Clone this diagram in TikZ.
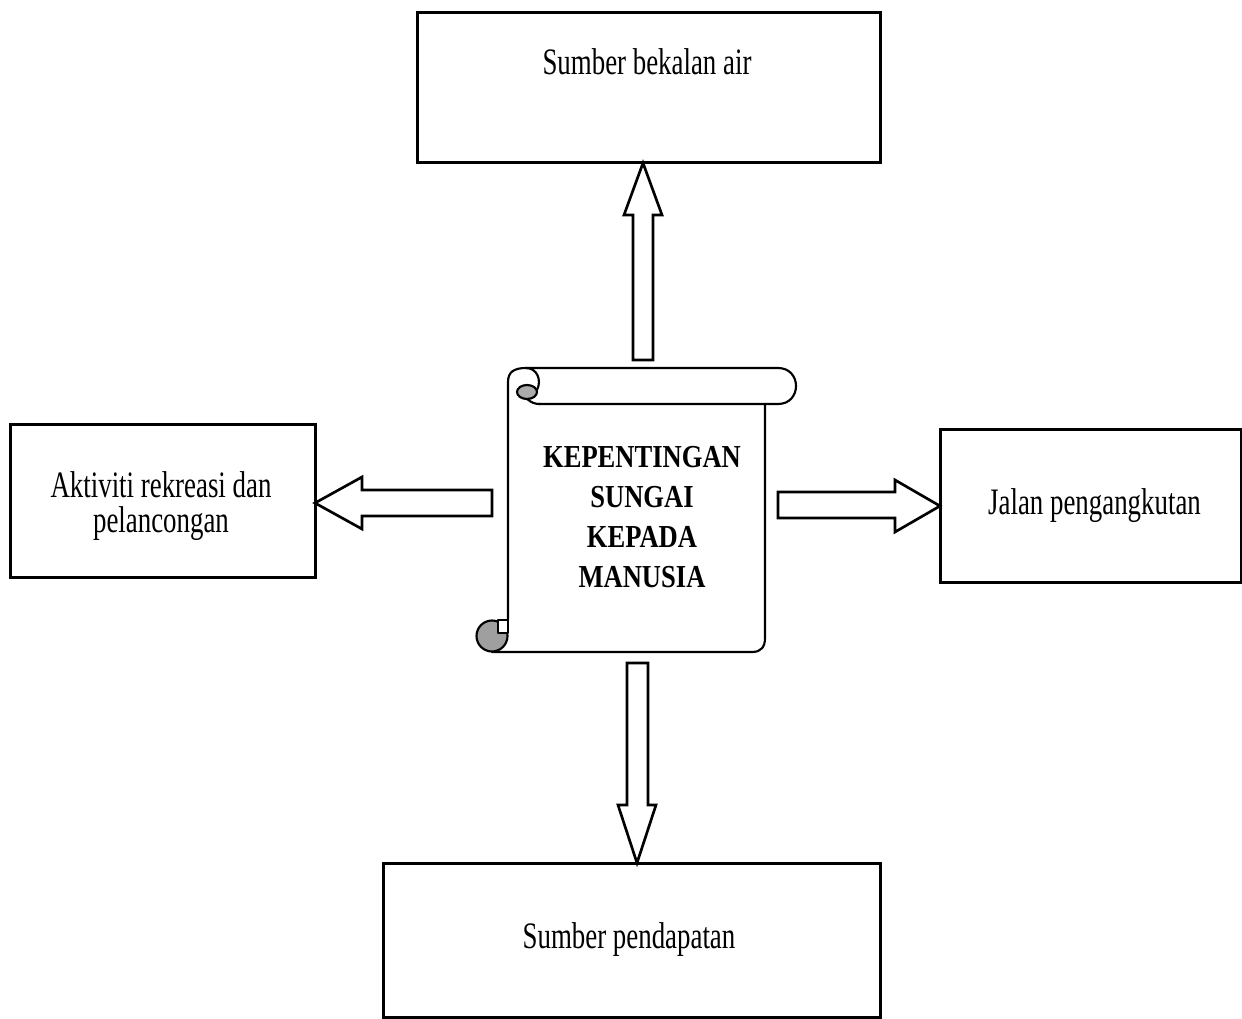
\documentclass[tikz,border=0pt]{standalone}
\usepackage{fontspec}
\setmainfont{Liberation Serif}[FakeStretch=0.72]
\newfontfamily\scrollfont{Liberation Serif}[FakeStretch=0.83]
\begin{document}
\begin{tikzpicture}[x=0.75pt,y=-0.75pt,
  box/.style={draw, line width=2.25pt, inner sep=0pt},
  txt/.style={font=\fontsize{28}{26.25}\selectfont, inner sep=0pt},
  blockarrow/.style={draw, line width=2pt, fill=white, line join=miter},
  scroll/.style={line width=1.6pt, line join=round, line cap=round}]
\useasboundingbox (0,0) rectangle (1242,1019);

% boxes
\node[box, minimum width=347.25pt, minimum height=112.5pt] (air) at (648.5,88) {};
\node[txt, anchor=base] (airtxt) at (647,75) {Sumber bekalan air};
\node[box, minimum width=228.75pt, minimum height=114pt] (rek) at (162.5,501) {};
\node[txt, align=center] (rektxt) at (161,506) {Aktiviti rekreasi dan\\pelancongan};
\node[box, minimum width=225.75pt, minimum height=114pt] (jalan) at (1090.5,506) {};
\node[txt, anchor=base] (jalantxt) at (1094.5,515) {Jalan pengangkutan};
\node[box, minimum width=372.75pt, minimum height=115.5pt] (dapat) at (631.5,940) {};
\node[txt, anchor=base] (dapattxt) at (629,948) {Sumber pendapatan};

% scroll
\draw[scroll] (508,620) -- (508,382) .. controls (508,372) and (514,368) .. (526,368) -- (778,368)
  .. controls (802,368) and (802,404) .. (778,404) -- (538,404);
\draw[scroll] (526,368) .. controls (537,368) and (542,380) .. (537,390);
\draw[scroll] (527,399) .. controls (532,403) and (535,404) .. (540,404);
\draw[scroll, fill=gray!65] (527,392) ellipse [x radius=10, y radius=7];
\draw[scroll] (765,404) -- (765,638) .. controls (765,647) and (761,652) .. (752,652) -- (492,652);
\draw[scroll, fill=gray!75] (492,636) circle [radius=15.5];
\draw[scroll, fill=white] (498,620) rectangle (508,633);
\node[font={\scrollfont\bfseries\fontsize{24}{30}\selectfont}, align=center, inner sep=0pt] (kep) at (642,517.5)
  {KEPENTINGAN\\SUNGAI\\KEPADA\\MANUSIA};

% block arrows
\draw[blockarrow] (633,360) -- (633,215) -- (624,215) -- (643,163) -- (662,215) -- (653,215) -- (653,360) -- cycle;
\draw[blockarrow] (492,490) -- (362,490) -- (362,477) -- (315,503) -- (362,529) -- (362,516) -- (492,516) -- cycle;
\draw[blockarrow] (778,492) -- (895,492) -- (895,480) -- (940,506) -- (895,532) -- (895,518) -- (778,518) -- cycle;
\draw[blockarrow] (627,663) -- (648,663) -- (648,805) -- (656,805) -- (637,863) -- (618,805) -- (627,805) -- cycle;
\end{tikzpicture}
\end{document}
